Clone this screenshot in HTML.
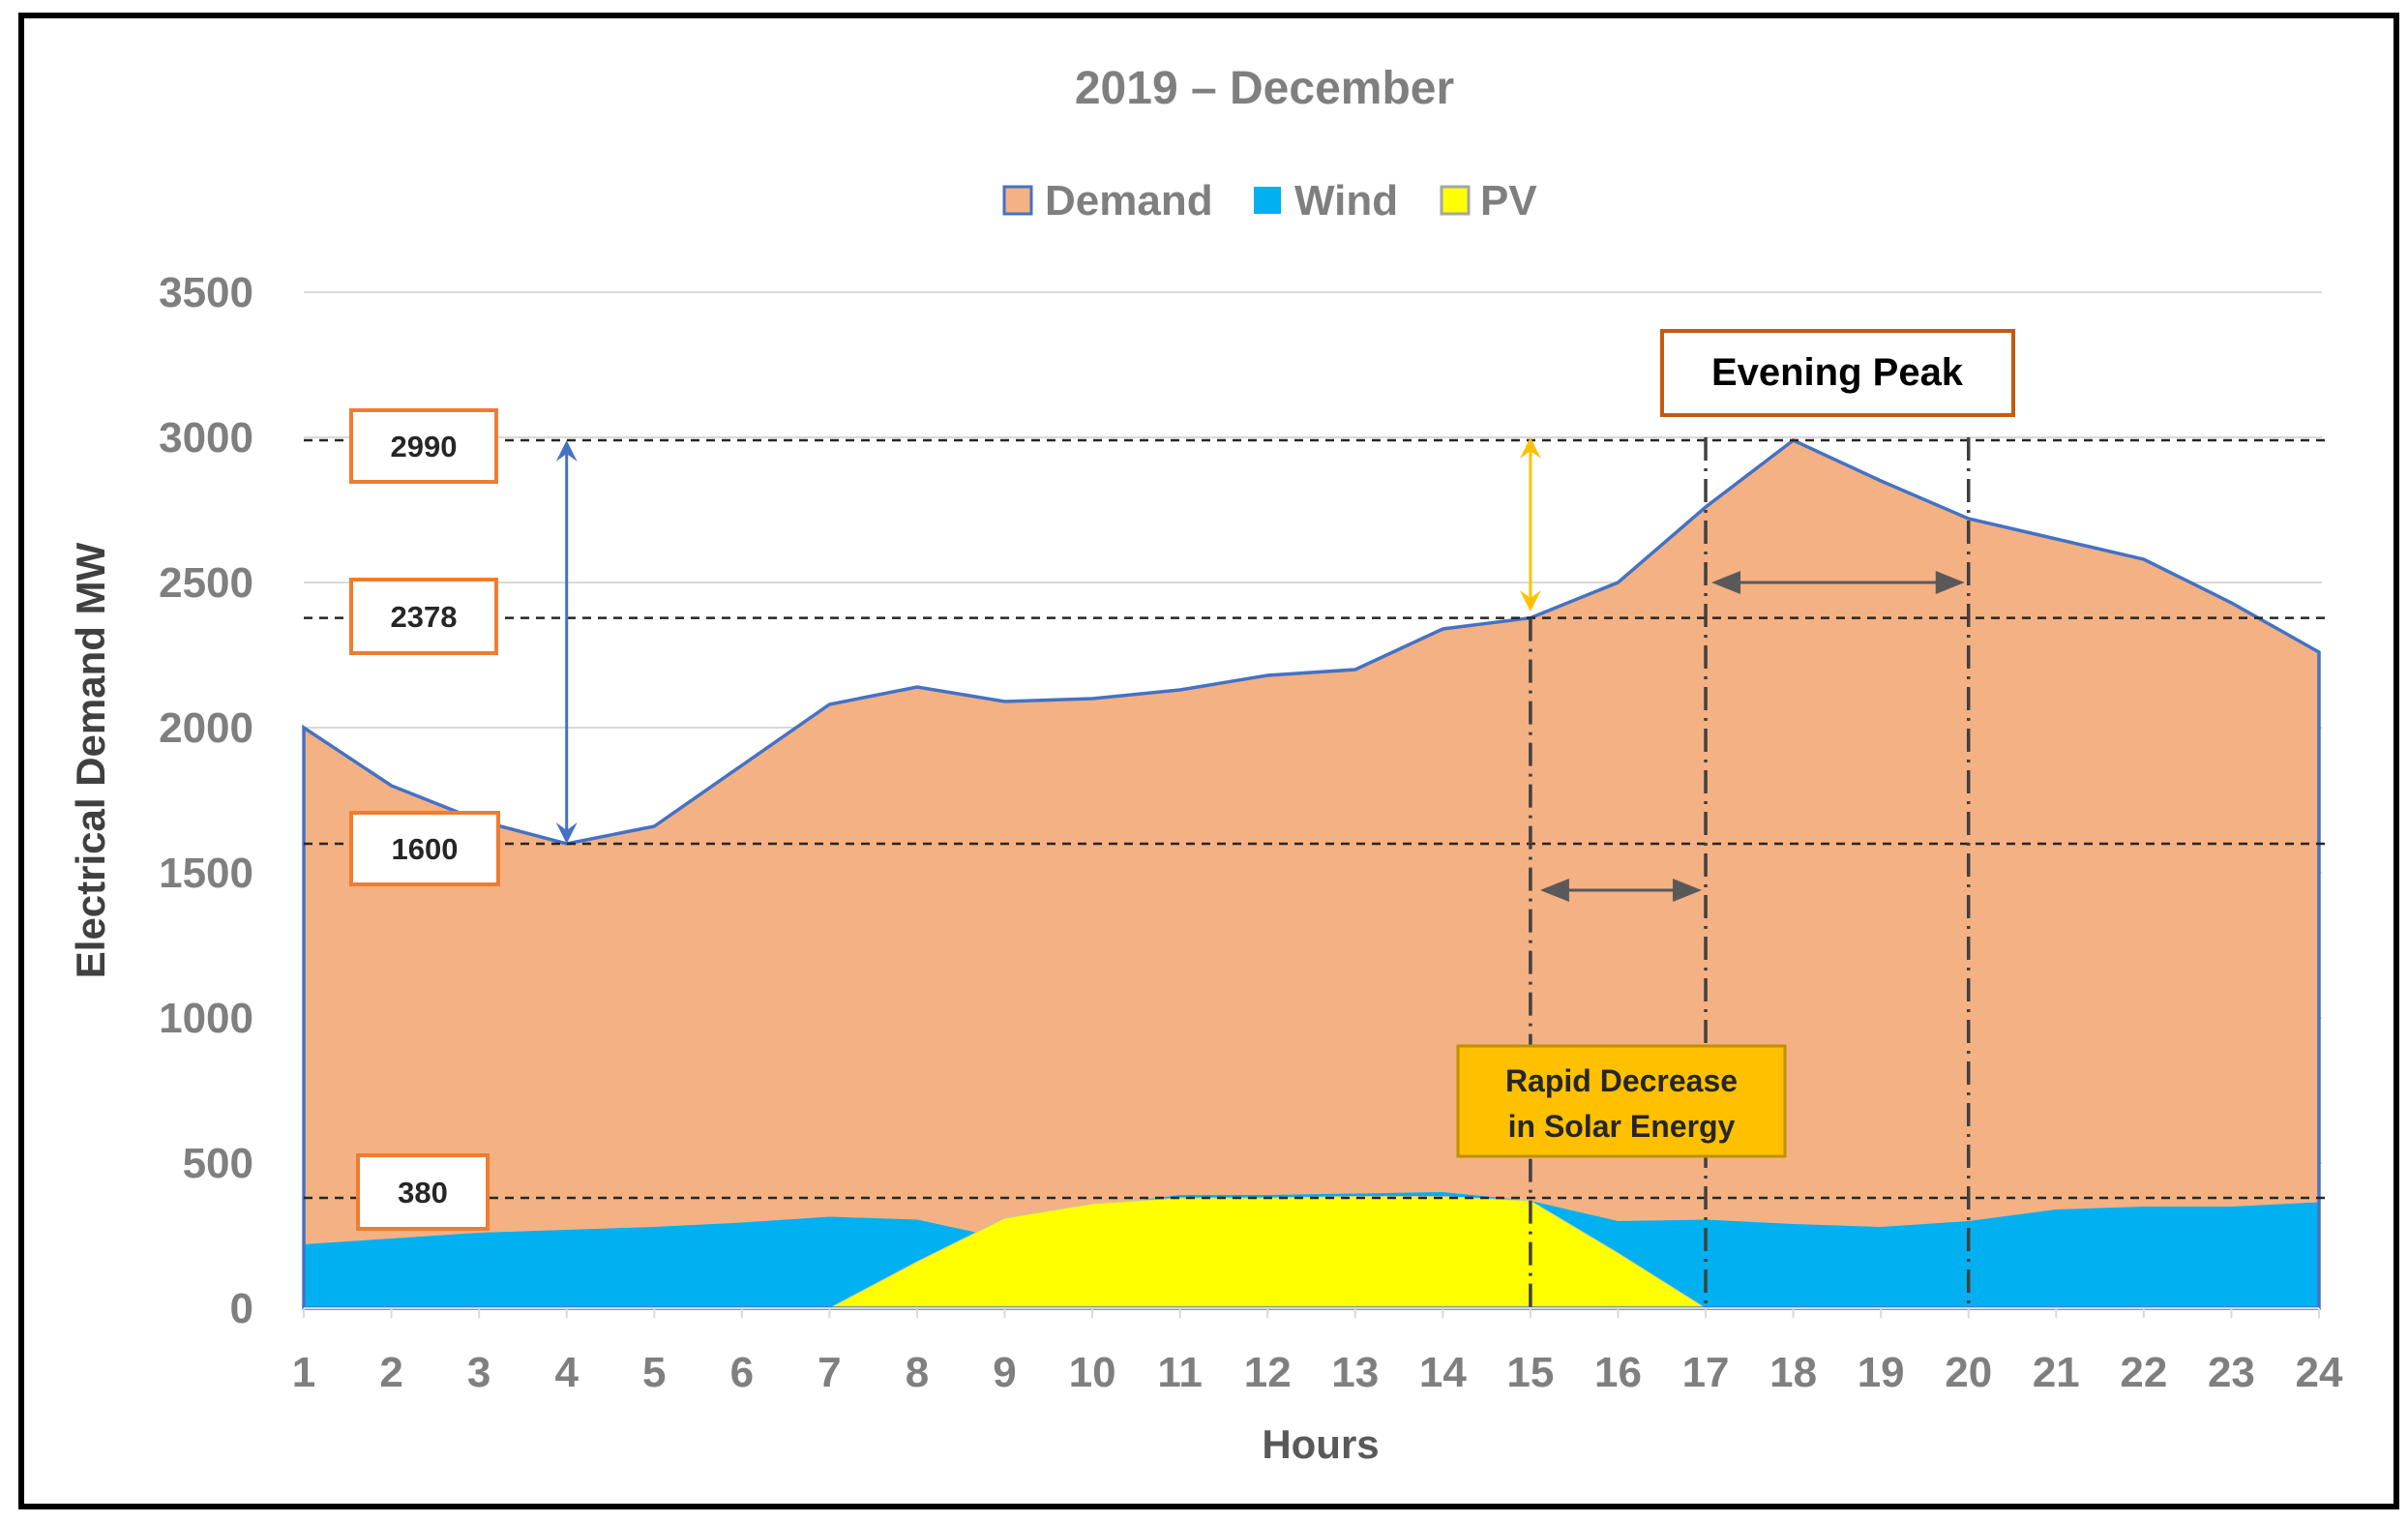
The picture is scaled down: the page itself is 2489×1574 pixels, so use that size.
<!DOCTYPE html>
<html><head><meta charset="utf-8"><style>
html,body{margin:0;padding:0;background:#fff;}
svg{display:block;font-family:"Liberation Sans",sans-serif;}
</style></head><body>
<svg id="c" width="2489" height="1574" viewBox="0 0 2489 1574" xmlns="http://www.w3.org/2000/svg">
<rect x="22" y="16" width="2455" height="1541" fill="#fff" stroke="#000" stroke-width="6"/>
<text x="1307" y="107" text-anchor="middle" font-size="48" font-weight="bold" fill="#7f7f7f">2019 – December</text>
<g>
<g><rect x="1038" y="193" width="28" height="28" fill="#f4b183" stroke="#4472c4" stroke-width="3"/><text x="1080" y="222" font-size="44" font-weight="bold" fill="#7f7f7f">Demand</text></g>
<g><rect x="1296" y="193" width="28" height="28" fill="#00b0f0"/><text x="1338" y="222" font-size="44" font-weight="bold" fill="#7f7f7f">Wind</text></g>
<g><rect x="1490" y="193" width="28" height="28" fill="#ffff00" stroke="#a5a5a5" stroke-width="3"/><text x="1530" y="222" font-size="44" font-weight="bold" fill="#7f7f7f">PV</text></g>
</g>
<g id="grid"></g><g id="areas"></g><g id="ann"></g><g id="axes"></g>
<text transform="translate(108,786) rotate(-90)" text-anchor="middle" font-size="42" font-weight="bold" fill="#404040">Electrical Demand MW</text>
<text x="1365" y="1507" text-anchor="middle" font-size="42" font-weight="bold" fill="#595959">Hours</text>
</svg>
<script>
const hours=[1,2,3,4,5,6,7,8,9,10,11,12,13,14,15,16,17,18,19,20,21,22,23,24];
const demand=[2000,1800,1680,1600,1660,1870,2080,2140,2090,2100,2130,2180,2200,2340,2378,2500,2760,2990,2850,2720,2650,2580,2430,2260];
const wind=[220,240,260,270,280,295,315,305,240,350,390,390,395,400,370,300,305,290,280,300,340,350,350,365];
const pv=[0,0,0,0,0,0,0,160,310,360,380,380,385,385,370,190,0,0,0,0,0,0,0,0];
const yTicks=[0,500,1000,1500,2000,2500,3000,3500];
const refValues=[2990,2378,1600,380];
const NS="http://www.w3.org/2000/svg";
const X=h=>314+(h-1)*(2397-314)/23;
const Y=v=>1352-v*0.3;
function mk(tag,attrs,parent,txt){const e=document.createElementNS(NS,tag);for(const k in attrs)e.setAttribute(k,attrs[k]);if(txt!==undefined)e.textContent=txt;parent.appendChild(e);return e;}
const grid=document.getElementById('grid'),areas=document.getElementById('areas'),ann=document.getElementById('ann'),axes=document.getElementById('axes');
yTicks.forEach(v=>{
 if(v>0){const l=mk('line',{x1:314,x2:2400,y1:Y(v),y2:Y(v),stroke:'#d9d9d9','stroke-width':2},grid);
 
 }
 const t=mk('text',{x:262,y:Y(v)+15,'text-anchor':'end','font-size':44,'font-weight':'bold',fill:'#7f7f7f'},axes,String(v));
 
 
});
hours.forEach(h=>{
 const t=mk('text',{x:X(h),y:1433,'text-anchor':'middle','font-size':44,'font-weight':'bold',fill:'#7f7f7f'},axes,String(h));
 
 
 mk('line',{x1:X(h),x2:X(h),y1:1352,y2:1362,stroke:'#d9d9d9','stroke-width':2},axes);
});
function areaPath(vals){let d='M'+X(hours[0])+','+Y(0);hours.forEach((h,i)=>d+=' L'+X(h)+','+Y(vals[i]));d+=' L'+X(hours[hours.length-1])+','+Y(0)+' Z';return d;}
const dA=mk('path',{d:areaPath(demand),fill:'#f4b183'},areas);


const wA=mk('path',{d:areaPath(wind),fill:'#00b0f0'},areas);


const pA=mk('path',{d:areaPath(pv),fill:'#ffff00',stroke:'#c9c9a0','stroke-width':1},areas);


const dL=mk('path',{d:areaPath(demand),fill:'none',stroke:'#4472c4','stroke-width':3.5},areas);


mk('line',{x1:314,x2:2397,y1:1352,y2:1352,stroke:'#d9d9d9','stroke-width':2},axes);
// reference lines + boxes
const boxes=[[363,424,150,74],[363,599,150,76],[363,840,152,74],[370,1194,134,76]];
refValues.forEach((v,i)=>{
 const l=mk('line',{x1:314,x2:2410,y1:Y(v),y2:Y(v),stroke:'#262626','stroke-width':2.5,'stroke-dasharray':'9 7'},ann);
 
 
 const b=boxes[i];
 const r=mk('rect',{x:b[0],y:b[1],width:b[2],height:b[3],fill:'#fff',stroke:'#ed7d31','stroke-width':4},ann);
 
 
 const t=mk('text',{x:b[0]+b[2]/2,y:b[1]+b[3]/2+11,'text-anchor':'middle','font-size':31,'font-weight':'bold',fill:'#262626'},ann,String(v));
 
 
});
// vertical dash-dot lines
[[15,2378],[17,3000],[20,3000]].forEach(([h,top])=>{
 const l=mk('line',{x1:X(h),x2:X(h),y1:Y(top),y2:Y(0),stroke:'#404040','stroke-width':3.5,'stroke-dasharray':'24 8 3 8'},ann);
 
 
});
function arrowV(x,y1,y2,col,name){
 const g=mk('g',{},ann);
 
 
 mk('line',{x1:x,x2:x,y1:y1+8,y2:y2-8,stroke:col,'stroke-width':3},g);
 mk('path',{d:`M${x-11},${y1+22} L${x},${y1} L${x+11},${y1+22} L${x},${y1+14}Z`,fill:col},g);
 mk('path',{d:`M${x-11},${y2-22} L${x},${y2} L${x+11},${y2-22} L${x},${y2-14}Z`,fill:col},g);
}
function arrowH(x1,x2,y,col,name){
 const g=mk('g',{},ann);
 
 
 mk('line',{x1:x1+10,x2:x2-10,y1:y,y2:y,stroke:col,'stroke-width':3},g);
 mk('path',{d:`M${x1},${y} L${x1+30},${y-12} L${x1+30},${y+12}Z`,fill:col},g);
 mk('path',{d:`M${x2},${y} L${x2-30},${y-12} L${x2-30},${y+12}Z`,fill:col},g);
}
arrowV(X(4),Y(2990),Y(1600),'#4472c4','demand-swing-arrow');
arrowV(X(15),Y(3000),Y(2400),'#ffc000','solar-gap-arrow');
arrowH(X(17)+6,X(20)-4,Y(2500),'#595959','evening-peak-span-arrow');
arrowH(X(15)+10,X(17)-4,Y(1440),'#595959','solar-decrease-span-arrow');
// Evening peak box
const ep=mk('rect',{x:1718,y:342,width:363,height:87,fill:'#fff',stroke:'#c55a11','stroke-width':4},ann);


const ept=mk('text',{x:1899,y:398,'text-anchor':'middle','font-size':40,'font-weight':'bold',fill:'#000'},ann,'Evening Peak');


const rb=mk('rect',{x:1507,y:1081,width:338,height:114,fill:'#ffc000',stroke:'#bf9000','stroke-width':3},ann);


const rt1=mk('text',{x:1676,y:1128,'text-anchor':'middle','font-size':32,'font-weight':'bold',fill:'#262626'},ann,'Rapid  Decrease');


const rt2=mk('text',{x:1676,y:1175,'text-anchor':'middle','font-size':32,'font-weight':'bold',fill:'#262626'},ann,'in Solar Energy');


</script>
</body></html>
